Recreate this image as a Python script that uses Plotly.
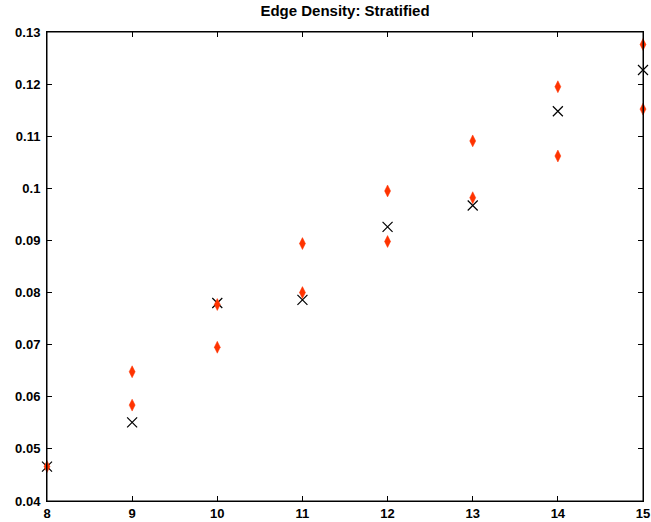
import plotly.graph_objects as go

x_red = [8, 9, 9, 10, 10, 11, 11, 12, 12, 13, 13, 14, 14, 15, 15]
y_red = [0.0466, 0.0648, 0.0584, 0.0777, 0.0695, 0.0894, 0.0800, 0.0995, 0.0898,
         0.1091, 0.0982, 0.1195, 0.1062, 0.1276, 0.1152]
x_black = [8, 9, 10, 11, 12, 13, 14, 15]
y_black = [0.0466, 0.0551, 0.0780, 0.0786, 0.0926, 0.0967, 0.1148, 0.1227]

x_ticks = [8, 9, 10, 11, 12, 13, 14, 15]
y_ticks = [0.04, 0.05, 0.06, 0.07, 0.08, 0.09, 0.1, 0.11, 0.12, 0.13]
y_tick_text = ["0.04", "0.05", "0.06", "0.07", "0.08", "0.09", "0.1", "0.11", "0.12", "0.13"]

fig = go.Figure()
fig.add_trace(go.Scatter(x=x_black, y=y_black, mode="markers",
                         marker=dict(symbol="x-thin", size=10, color="black",
                                     line=dict(width=1.2, color="black")),
                         cliponaxis=False, showlegend=False))
fig.add_trace(go.Scatter(x=x_red, y=y_red, mode="markers",
                         marker=dict(symbol="diamond-tall", size=8.5, color="#ff3300",
                                     line=dict(width=0.5, color="#ff3300")),
                         cliponaxis=False, showlegend=False))

font = dict(family="Liberation Sans, Arial, sans-serif", size=13, color="black", weight="bold")
fig.update_layout(
    width=651, height=522,
    margin=dict(l=47, r=8, t=32, b=21, autoexpand=False),
    paper_bgcolor="white", plot_bgcolor="white",
    title=dict(text="Edge Density: Stratified", x=0.5, xanchor="center",
               xref="paper", y=1 - 11 / 522, yref="container", yanchor="middle",
               font=dict(family="Liberation Sans, Arial, sans-serif", size=15,
                         color="black", weight="bold")),
    shapes=[dict(type="rect", xref="paper", yref="paper", x0=0, y0=0, x1=1, y1=1,
                 line=dict(color="black", width=1), fillcolor="rgba(0,0,0,0)",
                 layer="above")],
)
fig.update_xaxes(range=[8, 15], tickvals=x_ticks, ticktext=[str(t) for t in x_ticks],
                 ticks="inside", ticklen=5, tickcolor="black", tickwidth=1,
                 showline=True, linecolor="black", linewidth=1, mirror="ticks",
                 showgrid=False, zeroline=False, tickfont=font, automargin=False)
fig.update_yaxes(range=[0.04, 0.13], tickvals=y_ticks, ticktext=y_tick_text,
                 ticks="inside", ticklen=5, tickcolor="black", tickwidth=1,
                 showline=True, linecolor="black", linewidth=1, mirror="ticks",
                 showgrid=False, zeroline=False, tickfont=font, automargin=False,
                 ticklabelstandoff=3)

fig.write_html("out.html", config={"displayModeBar": False},
               post_script="document.body.style.margin='0';document.body.style.overflow='hidden';")
